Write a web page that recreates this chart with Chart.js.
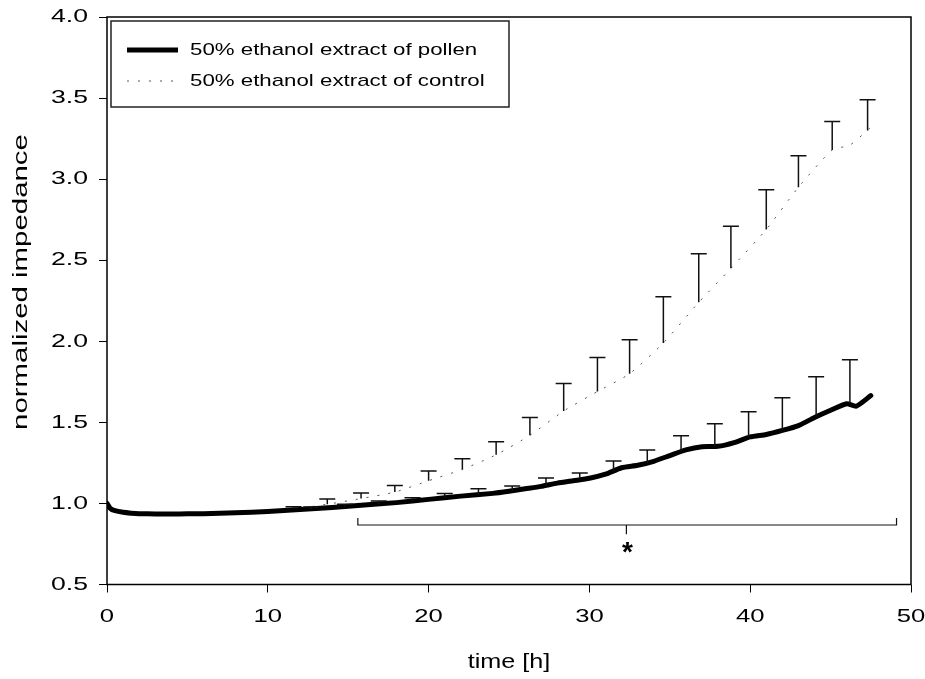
<!DOCTYPE html>
<html>
<head>
<meta charset="utf-8">
<script src="https://cdn.jsdelivr.net/npm/chart.js@4/dist/chart.umd.min.js"></script>
<style>
  html, body { margin: 0; padding: 0; background: #fff; }
  #wrap { width: 925px; height: 679px; position: relative; }
</style>
</head>
<body>
<div id="wrap"><canvas id="c" width="925" height="679"></canvas></div>
<script>
// ---------- data ----------
const seriesNames = ["50% ethanol extract of pollen", "50% ethanol extract of control"];
const xAxisTitle = "time [h]";
const yAxisTitle = "normalized impedance";
const xTicks = [0, 10, 20, 30, 40, 50];
const yTicks = [0.5, 1.0, 1.5, 2.0, 2.5, 3.0, 3.5, 4.0];

const pollenTime = [0, 0.2, 0.5, 1, 1.5, 2, 3, 4, 5, 6, 8, 10, 12, 14, 16, 18, 20, 22, 24, 25, 26, 27, 28, 29, 30, 31, 32, 33, 34, 35, 36, 37, 38, 39, 40, 41, 42, 43, 44, 45, 46, 46.6, 47.5];
const pollenValue = [1.00, 0.97, 0.955, 0.945, 0.94, 0.937, 0.935, 0.935, 0.936, 0.937, 0.942, 0.95, 0.962, 0.975, 0.99, 1.005, 1.025, 1.045, 1.062, 1.075, 1.09, 1.105, 1.125, 1.14, 1.155, 1.18, 1.22, 1.235, 1.26, 1.295, 1.33, 1.35, 1.352, 1.375, 1.41, 1.425, 1.45, 1.48, 1.53, 1.575, 1.615, 1.60, 1.665];

const controlTime = [0, 0.2, 0.5, 1, 2, 3, 5, 8, 10, 11.6, 13.7, 15.8, 17.9, 20.0, 22.1, 24.2, 26.3, 28.4, 30.5, 32.5, 34.6, 36.8, 38.8, 41.0, 43.0, 45.1, 46.2, 47.5];
const controlValue = [1.00, 0.97, 0.955, 0.945, 0.938, 0.936, 0.937, 0.943, 0.952, 0.965, 0.995, 1.03, 1.07, 1.14, 1.21, 1.30, 1.42, 1.57, 1.69, 1.80, 1.99, 2.24, 2.45, 2.69, 2.95, 3.18, 3.21, 3.32];

// error bars (upper side only): time, mean, mean + SD
const pollenBarTime  = [12.7, 14.8, 16.9, 19.0, 21.0, 23.1, 25.2, 27.3, 29.4, 31.5, 33.6, 35.7, 37.8, 39.9, 42.0, 44.1, 46.2];
const pollenBarMean  = [0.966, 0.98, 0.997, 1.015, 1.035, 1.055, 1.078, 1.11, 1.15, 1.20, 1.25, 1.32, 1.35, 1.405, 1.45, 1.535, 1.62];
const pollenBarUpper = [0.978, 0.995, 1.015, 1.035, 1.062, 1.09, 1.108, 1.157, 1.188, 1.262, 1.33, 1.417, 1.491, 1.565, 1.651, 1.781, 1.886];

const controlBarTime  = [11.6, 13.7, 15.8, 17.9, 20.0, 22.1, 24.2, 26.3, 28.4, 30.5, 32.5, 34.6, 36.8, 38.8, 41.0, 43.0, 45.1, 47.3];
const controlBarMean  = [0.965, 0.995, 1.03, 1.07, 1.14, 1.21, 1.30, 1.42, 1.57, 1.69, 1.80, 1.99, 2.24, 2.45, 2.69, 2.95, 3.18, 3.30];
const controlBarUpper = [0.98, 1.028, 1.065, 1.11, 1.20, 1.275, 1.38, 1.53, 1.74, 1.90, 2.01, 2.275, 2.54, 2.71, 2.935, 3.145, 3.355, 3.49];

// significance bracket (data units)
const bracketFrom = 15.6, bracketTo = 49.1, bracketMid = 32.3;
const bracketLevel = 0.867, bracketHook = 0.91, bracketDrop = 0.81, starLevel = 0.72;
const starLabel = "*";

// ---------- chart ----------
const FONT = "'Liberation Sans', Arial, sans-serif";

function pts(t, v) { return t.map((x, i) => ({ x: x, y: v[i] })); }

const errorBars = [
  { t: pollenBarTime, m: pollenBarMean, u: pollenBarUpper },
  { t: controlBarTime, m: controlBarMean, u: controlBarUpper }
];

// text with horizontal stretch
function stretchedText(ctx, text, x, y, size, sx, align, rot) {
  ctx.save();
  ctx.translate(x, y);
  if (rot) ctx.rotate(rot);
  ctx.scale(sx, 1);
  ctx.font = size + "px " + FONT;
  ctx.textAlign = align;
  ctx.textBaseline = 'middle';
  ctx.fillStyle = '#000';
  ctx.fillText(text, 0, 0);
  ctx.restore();
}

const decorPlugin = {
  id: 'decor',
  afterDatasetsDraw(chart) {
    const ctx = chart.ctx, xs = chart.scales.x, ys = chart.scales.y;
    ctx.save();
    // error bars
    ctx.strokeStyle = '#111';
    ctx.lineWidth = 1.5;
    errorBars.forEach(eb => {
      eb.t.forEach((t, i) => {
        const px = xs.getPixelForValue(t);
        const y1 = ys.getPixelForValue(eb.m[i]);
        const y2 = ys.getPixelForValue(eb.u[i]);
        ctx.beginPath();
        ctx.moveTo(px, y1); ctx.lineTo(px, y2);
        ctx.moveTo(px - 8, y2); ctx.lineTo(px + 8, y2);
        ctx.stroke();
      });
    });
    // bracket
    const bx1 = xs.getPixelForValue(bracketFrom), bx2 = xs.getPixelForValue(bracketTo);
    const bm = xs.getPixelForValue(bracketMid);
    const by = ys.getPixelForValue(bracketLevel), bh = ys.getPixelForValue(bracketHook);
    const bd = ys.getPixelForValue(bracketDrop);
    ctx.lineWidth = 1.2;
    ctx.beginPath();
    ctx.moveTo(bx1, bh); ctx.lineTo(bx1, by); ctx.lineTo(bx2, by); ctx.lineTo(bx2, bh);
    ctx.moveTo(bm, by); ctx.lineTo(bm, bd);
    ctx.stroke();
    ctx.fillStyle = '#000';
    ctx.font = "bold 28px " + FONT;
    ctx.textAlign = 'center';
    ctx.textBaseline = 'middle';
    ctx.fillText(starLabel, bm + 1, ys.getPixelForValue(starLevel) + 4);
    ctx.restore();
  },
  afterDraw(chart) {
    const ctx = chart.ctx, a = chart.chartArea, xs = chart.scales.x, ys = chart.scales.y;
    ctx.save();
    // frame
    ctx.strokeStyle = '#000';
    ctx.lineWidth = 1.5;
    ctx.strokeRect(a.left, a.top, a.right - a.left, a.bottom - a.top);
    // tick labels (from the library's scales)
    xs.ticks.forEach(t => {
      stretchedText(ctx, String(t.value), xs.getPixelForValue(t.value), 617, 19, 1.35, 'center');
    });
    ys.ticks.forEach(t => {
      stretchedText(ctx, Number(t.value).toFixed(1), 88, ys.getPixelForValue(t.value), 19, 1.4, 'right');
    });
    // legend
    const lx = 111, ly = 21, lw = 398, lh = 86;
    ctx.fillStyle = '#fff';
    ctx.fillRect(lx, ly, lw, lh);
    ctx.lineWidth = 1.5;
    ctx.strokeStyle = '#222';
    ctx.strokeRect(lx, ly, lw, lh);
    const ds = chart.data.datasets;
    const rows = [50, 81];
    rows.forEach((ry, i) => {
      ctx.save();
      ctx.strokeStyle = ds[i].borderColor;
      ctx.lineWidth = ds[i].borderWidth;
      ctx.setLineDash(ds[i].borderDash || []);
      ctx.beginPath();
      ctx.moveTo(127, ry); ctx.lineTo(178, ry);
      ctx.stroke();
      ctx.restore();
      stretchedText(ctx, ds[i].label, 190, ry, 17, 1.31, 'left');
    });
    // axis titles
    stretchedText(ctx, xAxisTitle, (a.left + a.right) / 2, 662, 21, 1.2, 'center');
    stretchedText(ctx, yAxisTitle, 21, 282, 21, 1.4, 'center', -Math.PI / 2);
    ctx.restore();
  }
};

new Chart(document.getElementById('c'), {
  type: 'line',
  data: {
    datasets: [
      {
        label: seriesNames[0],
        data: pts(pollenTime, pollenValue),
        borderColor: '#000',
        borderWidth: 5,
        pointRadius: 0,
        tension: 0.2,
        borderJoinStyle: 'round',
        borderCapStyle: 'round',
        order: 1
      },
      {
        label: seriesNames[1],
        data: pts(controlTime, controlValue),
        borderColor: '#555',
        borderWidth: 1,
        borderDash: [2, 9],
        pointRadius: 0,
        tension: 0.2,
        order: 2
      }
    ]
  },
  options: {
    responsive: false,
    animation: false,
    devicePixelRatio: 1,
    layout: { padding: { left: 0, top: 17, right: 14, bottom: 0 } },
    plugins: { legend: { display: false }, tooltip: { enabled: false } },
    scales: {
      x: {
        type: 'linear',
        min: 0, max: 50,
        afterBuildTicks: s => { s.ticks = xTicks.map(v => ({ value: v })); },
        afterFit: s => { s.height = 94.5; },
        border: { display: false },
        grid: { drawOnChartArea: false, drawTicks: true, tickLength: 8, color: '#000', lineWidth: 1 },
        ticks: { display: false }
      },
      y: {
        type: 'linear',
        min: 0.5, max: 4.0,
        afterBuildTicks: s => { s.ticks = yTicks.map(v => ({ value: v })); },
        afterFit: s => { s.width = 107; },
        border: { display: false },
        grid: { drawOnChartArea: false, drawTicks: true, tickLength: 8, color: '#000', lineWidth: 1 },
        ticks: { display: false }
      }
    }
  },
  plugins: [decorPlugin]
});
</script>
</body>
</html>
